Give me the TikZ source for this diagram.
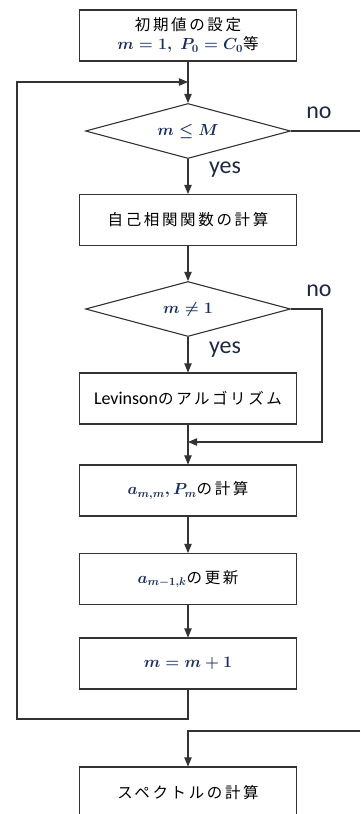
\RequirePackage{fix-cm}
\documentclass[tikz,border=0pt]{standalone}
\usepackage{amsmath}
\usepackage{fontspec}
\setmainfont{Carlito}
\newfontfamily\jpfont[LetterSpace=17]{Noto Sans CJK JP}
\usetikzlibrary{shapes,arrows}
\definecolor{mathnavy}{RGB}{25,45,95}
\definecolor{labelnavy}{RGB}{30,40,70}
\tikzstyle{procbox} = [draw=black!80, line width=1.1pt, minimum width=217pt, minimum height=51pt, align=center, font=\fontsize{18}{19}\selectfont]
\tikzstyle{decision} = [diamond, aspect=3.7, draw=black!80, line width=1.1pt, minimum width=205pt, minimum height=55pt, inner sep=0pt, font=\fontsize{18}{19}\selectfont]
\tikzstyle{flowline} = [draw=black!80, line width=1.1pt]
\tikzstyle{yesno} = [text=labelnavy, font=\fontsize{24}{25}\selectfont]
\newcommand{\jp}[1]{{\fontsize{15.5}{19}\selectfont\jpfont #1}}
\newcommand{\mth}[1]{{\fontsize{16}{19}\selectfont\color{mathnavy}$\boldsymbol{#1}$}}

\begin{document}
\begin{tikzpicture}[x=1pt, y=-1pt, >=triangle 45]
		\clip (0,0) rectangle (360,814);
		\node [procbox] at (188,35.5) (init) {\jp{初期値の設定}\\ \mth{m=1,\;P_0=C_0}\jp{等}};
		\node [decision, below of = init, node distance=95.5pt] (cond1) {\mth{m\leq M}};
		\node [procbox, below of = cond1, node distance=89pt] (corr) {\jp{自己相関関数の計算}};
		\node [decision, below of = corr, node distance=89pt] (cond2) {\mth{m\neq 1}};
		\node [procbox, below of = cond2, node distance=89.5pt] (lev) {Levinson\jp{のアルゴリズム}};
		\node [procbox, below of = lev, node distance=92pt] (amm) {\mth{a_{m,m}, P_m}\jp{の計算}};
		\node [procbox, below of = amm, node distance=88.5pt] (upd) {\mth{a_{m-1,k}}\jp{の更新}};
		\node [procbox, below of = upd, node distance=84.5pt] (inc) {\mth{m=m+1}};
		\node [procbox, below of = inc, node distance=129pt] (spec) {\jp{スペクトルの計算}};
		
		\coordinate (entry) at (188,82);
		\coordinate (loopbl) at (17,719);
		\coordinate (loopbr) at (188,719);
		\coordinate (loopt) at (17,82);
		\coordinate (noright) at (360,131);
		\coordinate (noback) at (360,731);
		\coordinate (specin) at (188,731);
		\coordinate (bypass) at (322,309);
		\coordinate (bypassb) at (322,442);
		\coordinate (merge) at (188,442);
		
		\node [yesno] at (225,170) (yes1) {yes};
		\node [yesno] at (225,350) (yes2) {yes};
		\node [yesno] at (319,113) (no1) {no};
		\node [yesno] at (319,291) (no2) {no};
		
		\draw [flowline, ->] (init) -- (cond1);
		\draw [flowline, ->] (cond1) -- (corr);
		\draw [flowline, ->] (corr) -- (cond2);
		\draw [flowline, ->] (cond2) -- (lev);
		\draw [flowline, ->] (lev) -- (amm);
		\draw [flowline, ->] (amm) -- (upd);
		\draw [flowline, ->] (upd) -- (inc);
		\draw [flowline, ->] (inc.south) -- (loopbr) -- (loopbl) -- (loopt) -- (entry);
		\draw [flowline] (cond1.east) -- (noright);
		\draw [flowline, ->] (noback) -- (specin) -- (spec.north);
		\draw [flowline, ->] (cond2.east) -- (bypass) -- (bypassb) -- (merge);
		
\end{tikzpicture}
\end{document}
